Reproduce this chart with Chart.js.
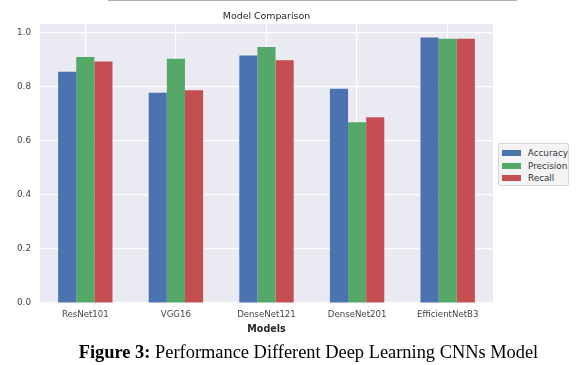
<!DOCTYPE html>
<html>
<head>
<meta charset="utf-8">
<script src="https://cdn.jsdelivr.net/npm/chart.js@4.4.0/dist/chart.umd.min.js"></script>
<style>
  html, body { margin: 0; padding: 0; background: #fff; }
  #wrap { position: relative; width: 579px; height: 365px; overflow: hidden; }
  #topline { position: absolute; left: 108px; top: 0; width: 409px; height: 1px; background: #b0b0b0; }
  #legend {
    position: absolute; left: 498px; top: 143px; width: 71px; height: 43px;
    box-sizing: border-box; border: 1px solid #d6d6d6; border-radius: 2px;
    background: #f4f4f6; font-family: "DejaVu Sans", sans-serif; font-size: 8.8px; color: #333;
    padding-top: 3px;
  }
  .item { height: 12.6px; display: flex; align-items: center; }
  .sw { width: 19px; height: 6px; margin: 0 7px 0 3px; }
  #caption {
    position: absolute; left: 19px; width: 579px; top: 342px; text-align: center;
    font-family: "Liberation Serif", "Times New Roman", serif; font-size: 18.4px; color: #000;
    white-space: nowrap;
  }
</style>
</head>
<body>
<div id="wrap">
  <canvas id="chart" width="579" height="365"></canvas>
  <div id="topline"></div>
  <div id="legend"></div>
  <div id="caption"><b>Figure 3:</b> Performance Different Deep Learning CNNs Model</div>
</div>
<script>
const models = ['ResNet101', 'VGG16', 'DenseNet121', 'DenseNet201', 'EfficientNetB3'];
const accuracy = [0.856, 0.778, 0.916, 0.793, 0.983];
const precision = [0.911, 0.904, 0.948, 0.669, 0.978];
const recall = [0.894, 0.788, 0.899, 0.688, 0.978];
const yTicks = [0.0, 0.2, 0.4, 0.6, 0.8, 1.0];

const font = '"DejaVu Sans", sans-serif';

// seaborn darkgrid background + title over the plot area
const bgPlugin = {
  id: 'bg',
  beforeDraw(chart) {
    const a = chart.chartArea, ctx = chart.ctx;
    ctx.save();
    ctx.fillStyle = '#eaeaf2';
    ctx.fillRect(a.left, a.top, a.right - a.left, a.bottom - a.top);
    ctx.fillStyle = '#262626';
    ctx.font = '9.4px ' + font;
    ctx.textAlign = 'center';
    ctx.textBaseline = 'middle';
    ctx.fillText('Model Comparison', (a.left + a.right) / 2, 16.5);
    ctx.restore();
  }
};

const chart = new Chart(document.getElementById('chart'), {
  type: 'bar',
  data: {
    labels: models,
    datasets: [
      { label: 'Accuracy', data: accuracy, backgroundColor: '#4c72b0' },
      { label: 'Precision', data: precision, backgroundColor: '#55a868' },
      { label: 'Recall', data: recall, backgroundColor: '#c44e52' }
    ]
  },
  options: {
    responsive: false,
    animation: false,
    devicePixelRatio: 1,
    layout: { padding: { left: 0, right: 86, top: 24, bottom: 30 } },
    datasets: { bar: { categoryPercentage: 0.6, barPercentage: 1.0 } },
    plugins: { legend: { display: false }, tooltip: { enabled: false } },
    scales: {
      x: {
        grid: { color: '#ffffff', lineWidth: 1.2, offset: false, drawTicks: false },
        border: { display: false },
        ticks: { color: '#444', font: { family: font, size: 8.6 }, padding: 7, maxRotation: 0 },
        title: { display: true, text: 'Models', color: '#262626', font: { family: font, size: 9.6, weight: 'bold' }, padding: { top: 1, bottom: 0 } },
        afterFit(s) { s.height = 32; }
      },
      y: {
        min: 0, max: 1.033,
        grid: { color: '#ffffff', lineWidth: 1.2, drawTicks: false },
        border: { display: false },
        afterBuildTicks(s) { s.ticks = yTicks.map(v => ({ value: v })); },
        ticks: { color: '#444', font: { family: font, size: 8.8 }, padding: 9, callback: v => v.toFixed(1) },
        afterFit(s) { s.width = 40; }
      }
    }
  },
  plugins: [bgPlugin]
});

// legend built from the chart's datasets
const lg = document.getElementById('legend');
chart.data.datasets.forEach(ds => {
  const row = document.createElement('div');
  row.className = 'item';
  row.innerHTML = '<span class="sw" style="background:' + ds.backgroundColor + '"></span>' + ds.label;
  lg.appendChild(row);
});
</script>
</body>
</html>
